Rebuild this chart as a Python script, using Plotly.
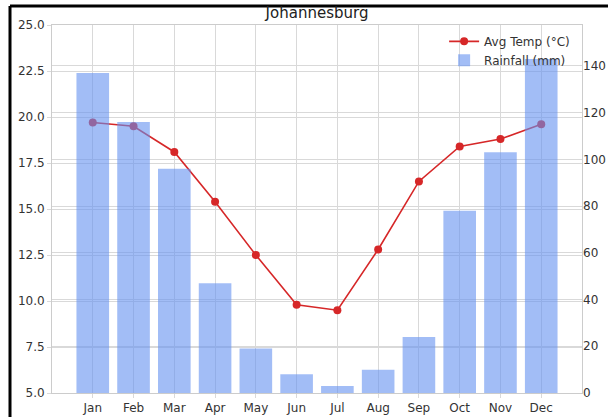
import plotly.graph_objects as go

months = ["Jan", "Feb", "Mar", "Apr", "May", "Jun", "Jul", "Aug", "Sep", "Oct", "Nov", "Dec"]
avg_temp = [19.7, 19.5, 18.1, 15.4, 12.5, 9.8, 9.5, 12.8, 16.5, 18.4, 18.8, 19.6]
rainfall = [137, 116, 96, 47, 19, 8, 3, 10, 24, 78, 103, 143]

left_ticks = [5.0, 7.5, 10.0, 12.5, 15.0, 17.5, 20.0, 22.5, 25.0]
right_ticks = [0, 20, 40, 60, 80, 100, 120, 140]

W, H = 608, 417
ml, mr, mt, mb = 52, 26, 25, 24
pw, ph = W - ml - mr, H - mt - mb

fig = go.Figure()
fig.add_trace(go.Scatter(
    x=list(range(len(months))), y=avg_temp, name="Avg Temp (°C)",
    mode="lines+markers", line=dict(color="#d62728", width=1.6),
    marker=dict(color="#d62728", size=8), yaxis="y", xaxis="x"))
fig.add_trace(go.Bar(
    x=list(range(len(months))), y=rainfall, name="Rainfall (mm)",
    marker=dict(color="rgba(100,145,240,0.6)", line=dict(width=0)),
    width=0.8, yaxis="y2", xaxis="x"))

grid = "#d9d9d9"
fig.update_layout(
    width=W, height=H,
    margin=dict(l=ml, r=mr, t=mt, b=mb, autoexpand=False),
    paper_bgcolor="white", plot_bgcolor="white",
    font=dict(family="DejaVu Sans", size=12, color="#333333"),
    title=dict(text="Johannesburg", x=0.5, xref="paper", xanchor="center",
               y=1 - 13 / H, yanchor="middle",
               font=dict(size=15, color="#222222")),
    showlegend=True,
    legend=dict(x=0.987, xanchor="right", y=0.995, yanchor="top",
                bgcolor="rgba(255,255,255,0)", font=dict(size=12, color="#333333"),
                tracegroupgap=0),
    xaxis=dict(range=[-1, 12], tickmode="array", tickvals=list(range(12)), ticktext=months,
               showgrid=True, gridcolor=grid, gridwidth=1, zeroline=False,
               showline=True, linecolor="#cccccc", mirror=True,
               ticks="outside", ticklen=4, tickcolor=grid),
    yaxis=dict(range=[5, 25], tickmode="array", tickvals=left_ticks,
               ticktext=[f"{v:.1f}" for v in left_ticks],
               showgrid=True, gridcolor=grid, gridwidth=1, zeroline=False,
               showline=True, linecolor="#cccccc", mirror=True,
               ticks="outside", ticklen=4, tickcolor=grid),
    yaxis2=dict(range=[0, 157.5], overlaying="y", side="right", tickmode="array",
                tickvals=right_ticks, showgrid=True, gridcolor=grid, gridwidth=1,
                zeroline=False, ticks="", ticklabelstandoff=0),
    shapes=[
        dict(type="line", xref="paper", yref="paper",
             x0=(10 - ml) / pw, x1=(10 - ml) / pw, y0=(H - mb - 6) / ph, y1=(H - mb - 430) / ph,
             line=dict(color="black", width=3), layer="above"),
        dict(type="line", xref="paper", yref="paper",
             x0=(10 - ml) / pw, x1=(620 - ml) / pw, y0=(H - mb - 6) / ph, y1=(H - mb - 6) / ph,
             line=dict(color="black", width=3), layer="above"),
    ],
)

fig.write_html("out.html", config={"displayModeBar": False},
               post_script="document.body.style.margin='0';")
